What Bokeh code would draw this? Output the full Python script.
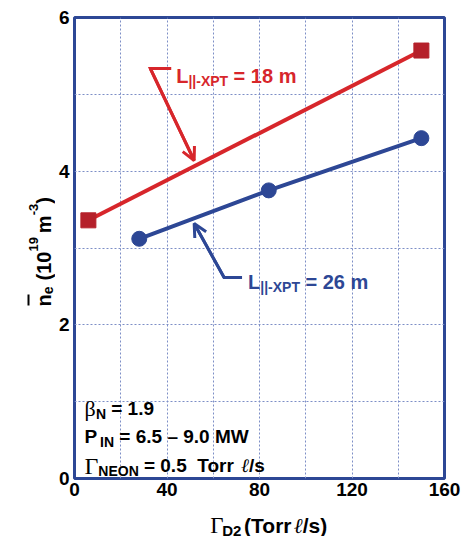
import math
from bokeh.plotting import figure
from bokeh.layouts import row, column
from bokeh.models import Arrow, OpenHead, FixedTicker, Range1d
from bokeh.core.properties import value
from bokeh.embed import file_html
from bokeh.resources import INLINE

# ---------------- data ----------------
red_x = [6, 150]
red_y = [3.36, 5.57]
blue_x = [28, 84, 150]
blue_y = [3.12, 3.75, 4.43]
x_ticks = [0, 40, 80, 120, 160]
y_ticks = [0, 2, 4, 6]
x_grid = [20, 40, 60, 80, 100, 120, 140]
y_grid = [1, 2, 3, 4, 5]

RED = "#d7262b"
RED_DARK = "#b5202a"
BLUE = "#2d4795"
GRID = "#7d8ec6"
SANS = "Liberation Sans"
SERIF = "Liberation Serif"
NB = "\u00a0"

W, H = 464, 536
LW = 55          # left strip width (y title)
BH = 32          # bottom strip height (x title)
MW, MH = W - LW, H - BH
X0, X1, Y0, Y1 = 73, 444, 17, 478  # frame in page pixels

p = figure(width=MW, height=MH, output_backend="svg", toolbar_location=None,
           x_range=Range1d(0, 160), y_range=Range1d(0, 6),
           min_border_left=X0 - LW, min_border_right=W - X1,
           min_border_top=Y0, min_border_bottom=MH - Y1)
p.background_fill_color = "white"
p.border_fill_color = "white"
p.outline_line_color = BLUE
p.outline_line_width = 3

for ax in (p.xaxis[0], p.yaxis[0]):
    ax.axis_line_color = None
    ax.major_tick_line_color = None
    ax.minor_tick_line_color = None
    ax.major_tick_out = 0
    ax.major_tick_in = 0
    ax.minor_tick_out = 0
    ax.minor_tick_in = 0
    ax.major_label_text_font = SANS
    ax.major_label_text_font_style = "bold"
    ax.major_label_text_font_size = "19px"
    ax.major_label_text_color = "black"
p.xaxis.major_label_standoff = 4
p.yaxis.major_label_standoff = 5
p.xaxis.ticker = FixedTicker(ticks=x_ticks)
p.yaxis.ticker = FixedTicker(ticks=y_ticks)

p.xgrid.ticker = FixedTicker(ticks=x_grid)
p.ygrid.ticker = FixedTicker(ticks=y_grid)
for g in (p.xgrid[0], p.ygrid[0]):
    g.grid_line_color = GRID
    g.grid_line_dash = "2 2"
    g.grid_line_width = 1


def dx(px):
    return (px - X0) / (X1 - X0) * 160


def dy(py):
    return (Y1 - py) / (Y1 - Y0) * 6


# ---------------- series ----------------
p.line(red_x, red_y, line_color=RED, line_width=4)
p.scatter(red_x, red_y, marker="square", size=15, fill_color=RED_DARK, line_color=RED_DARK)
p.line(blue_x, blue_y, line_color=BLUE, line_width=4)
p.scatter(blue_x, blue_y, marker="circle", size=15, fill_color=BLUE, line_color=BLUE)


# ---------------- strips for axis titles ----------------
def strip(w, h):
    f = figure(width=w, height=h, output_backend="svg", toolbar_location=None,
               x_range=Range1d(0, w), y_range=Range1d(0, h),
               x_axis_type=None, y_axis_type=None, min_border=0)
    f.outline_line_color = None
    f.grid.visible = False
    f.background_fill_color = "white"
    f.border_fill_color = "white"
    return f


left = strip(LW, H)
bottom = strip(MW, BH)

# page pixel -> data coordinate mappers for each figure
MAP_MAIN = (p, dx, dy)
MAP_LEFT = (left, lambda px: px, lambda py: H - py)
MAP_BOTTOM = (bottom, lambda px: px - LW, lambda py: H - py)

# ---------------- rich text helper ----------------
WID = {" ": 278, NB: 278, "(": 333, ")": 333, "-": 333, ".": 278, "/": 278, "=": 584,
       "D": 722, "E": 667, "I": 278, "L": 611, "M": 833, "N": 722, "O": 778,
       "P": 667, "T": 611, "W": 944, "X": 667, "e": 556, "m": 889, "n": 611,
       "o": 611, "r": 389, "s": 556, "|": 280, "\u2013": 556,
       "\u0393": 578, "\u03b2": 520, "\u2113": 420}


def tw(t, size):
    return sum(WID.get(c, 556) for c in t) / 1000.0 * size


def rich(target, pieces, x, y, color="black", vertical=False):
    """pieces: (text, font, size_px, style, baseline_shift_px) or ("GAP", px)"""
    fig, fx, fy = target
    for pc in pieces:
        if pc[0] == "GAP":
            adv = pc[1]
        else:
            text, font, size, style, shift = pc
            if vertical:
                lx, ly, ang = x + shift, y, math.pi / 2
            else:
                lx, ly, ang = x, y + shift, 0
            fig.text(x=[fx(lx)], y=[fy(ly)], text=[text], angle=ang,
                     text_font=value(font), text_font_size=value(f"{size}px"),
                     text_font_style=style, text_color=color,
                     text_align="left", text_baseline="alphabetic")
            adv = tw(text, size)
        if vertical:
            y -= adv
        else:
            x += adv


# ---------------- annotations ----------------
def leader(pts, color):
    xs = [dx(a) for a, b in pts]
    ys = [dy(b) for a, b in pts]
    p.line(xs, ys, line_color=color, line_width=3, line_join="miter")
    p.add_layout(Arrow(end=OpenHead(size=13, line_color=color, line_width=3),
                       x_start=xs[-2], y_start=ys[-2], x_end=xs[-1], y_end=ys[-1],
                       line_color=color, line_width=3))


leader([(170, 68), (149, 68), (193, 160)], RED)
leader([(241, 277), (223, 277), (193, 223)], BLUE)

rich(MAP_MAIN, [("L", SANS, 20, "bold", 0), ("||-XPT", SANS, 14, "bold", 5),
                (NB + "= 18 m", SANS, 20, "bold", 0)], 175, 75, color=RED)
rich(MAP_MAIN, [("L", SANS, 20, "bold", 0), ("||-XPT", SANS, 14, "bold", 5),
                (NB + "= 26 m", SANS, 20, "bold", 0)], 247, 281, color=BLUE)

# parameters box
rich(MAP_MAIN, [("\u03b2", SERIF, 22, "normal", 0), ("N", SANS, 14, "bold", 5),
                (NB + "= 1.9", SANS, 19, "bold", 0)], 83, 408)
rich(MAP_MAIN, [("P", SANS, 19, "bold", 0), ("GAP", 3), ("IN", SANS, 14, "bold", 5),
                (NB + "= 6.5 \u2013 9.0 MW", SANS, 19, "bold", 0)], 83, 436)
rich(MAP_MAIN, [("\u0393", SERIF, 24, "normal", 0), ("NEON", SANS, 14, "bold", 5),
                (NB + "= 0.5" + NB + NB + "Torr", SANS, 19, "bold", 0), ("GAP", 6),
                ("\u2113", SERIF, 19, "italic", 0), ("/s", SANS, 19, "bold", 0)], 83, 465)

# x-axis title
rich(MAP_BOTTOM, [("\u0393", SERIF, 23, "normal", 0), ("D2", SANS, 15, "bold", 5),
                  ("GAP", 5), ("(Torr", SANS, 21, "bold", 0), ("GAP", 6),
                  ("\u2113", SERIF, 21, "italic", 0), ("GAP", 1),
                  ("/s)", SANS, 21, "bold", 0)], 205, 525)

# y-axis title (rotated, reading bottom to top)
yl_x, yl_y = 43, 306
rich(MAP_LEFT, [("n", SANS, 20, "bold", 0), ("e", SANS, 14, "bold", 4),
                ("GAP", 6), ("(10", SANS, 20, "bold", 0), ("19", SANS, 13, "bold", -10),
                ("GAP", 4), ("m", SANS, 20, "bold", 0), ("-3", SANS, 13, "bold", -10),
                (")", SANS, 20, "bold", 0)], yl_x, yl_y, vertical=True)
# overbar on n
left.line(x=[yl_x - 15, yl_x - 15], y=[H - (yl_y - 1), H - (yl_y - 12)],
          line_color="black", line_width=2)

layout = row(left, column(p, bottom))
open("out.html", "w").write(file_html(layout, INLINE))
